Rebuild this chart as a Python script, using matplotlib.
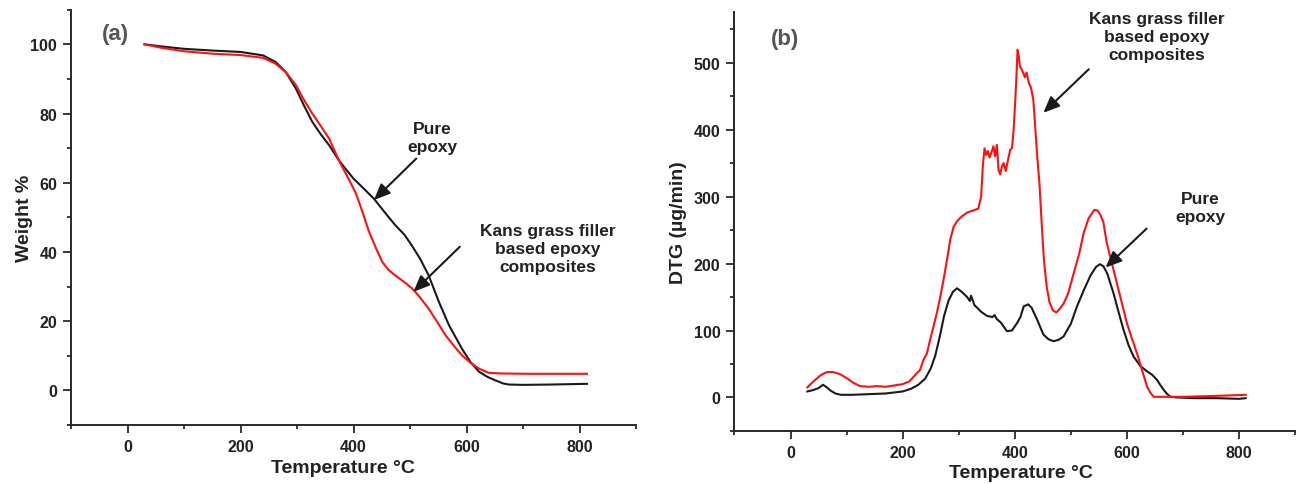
import matplotlib
matplotlib.use("Agg")
import matplotlib.pyplot as plt
from matplotlib.ticker import MultipleLocator

plt.rcParams['font.family'] = ['Liberation Sans', 'DejaVu Sans']
plt.rcParams['font.weight'] = 'bold'

# ---- (a) TGA: weight % vs temperature ----
tga_pure_T = [30, 60, 100, 150, 200, 240, 262, 280, 298, 312, 327, 342, 357, 374, 388,
              400, 420, 436, 455, 474, 490, 503, 518, 533, 551, 569, 592, 607, 622,
              637, 651, 665, 675, 700, 750, 813]
tga_pure_W = [100, 99.4, 98.7, 98.2, 97.8, 96.8, 94.9, 92.0, 87.2, 82.4, 77.6, 74.0,
              70.8, 66.5, 63.6, 61.2, 58.0, 55.4, 51.5, 47.7, 45.0, 41.9, 38.0, 33.2,
              25.6, 18.8, 12.0, 8.2, 5.4, 3.9, 2.9, 2.0, 1.7, 1.6, 1.7, 1.9]

tga_kans_T = [30, 60, 100, 150, 200, 240, 262, 280, 298, 312, 327, 342, 357, 374, 390,
              404, 416, 427, 440, 451, 462, 474, 490, 504, 518, 533, 548, 563, 578,
              592, 607, 622, 639, 660, 710, 813]
tga_kans_W = [100, 99.0, 98.0, 97.3, 96.9, 96.1, 94.4, 92.0, 88.2, 84.0, 80.0, 76.4,
              72.7, 66.5, 61.5, 57.0, 51.5, 46.0, 41.0, 37.1, 34.8, 33.2, 31.3, 29.4,
              26.8, 23.6, 19.8, 15.9, 12.8, 10.1, 8.0, 6.3, 5.1, 4.9, 4.8, 4.8]

# ---- (b) DTG: weight-loss rate vs temperature ----
dtg_pure_T = [30, 40, 50, 58, 65, 72, 80, 90, 110, 140, 170, 200, 215, 228, 240, 250,
              258, 266, 274, 282, 290, 297, 305, 315, 320, 322, 328, 340, 350, 360,
              364, 368, 375, 386, 395, 404, 410, 416, 424, 430, 440, 451, 460, 469,
              478, 487, 500, 511, 523, 535, 545, 552, 558, 565, 576, 585, 594, 603,
              612, 624, 636, 645, 654, 660, 666, 672, 678, 690, 720, 760, 800, 812]
dtg_pure_V = [9, 11, 14, 19, 15, 10, 6, 4, 4, 5, 6, 9, 13, 19, 28, 43,
              62, 90, 122, 145, 158, 163, 158, 150, 144, 152, 138, 128, 122, 120,
              123, 117, 112, 99, 100, 111, 120, 136, 139, 134, 116, 94, 87, 84,
              86, 91, 110, 136, 160, 182, 195, 199, 196, 185, 156, 128, 101, 78,
              61, 47, 39, 34, 26, 18, 11, 5, 1, 0, -1, -1, -2, -1]

dtg_kans_T = [30, 36, 45, 55, 65, 76, 88, 100, 112, 124, 140, 154, 170, 185, 200, 212,
              225, 231, 237, 243, 249, 255, 261, 267, 273, 279, 285, 291, 297, 305,
              315, 325, 335, 340, 343, 346, 349, 352, 355, 358, 362, 365, 368, 371,
              374, 377, 380, 384, 388, 392, 395, 398, 401, 403, 405, 407, 409, 412,
              415, 418, 421, 425, 429, 433, 436, 440, 444, 448, 452, 457, 462, 468,
              474, 480, 487, 495, 505, 515, 523, 532, 542, 548, 553, 558, 564, 573,
              582, 591, 600, 609, 618, 627, 636, 642, 648, 660, 700, 740, 780, 812]
dtg_kans_V = [15, 20, 27, 34, 38, 38, 35, 29, 22, 17, 16, 17, 16, 18, 20, 24,
              36, 41, 56, 65, 86, 106, 126, 150, 176, 205, 236, 255, 263, 270,
              276, 279, 282, 300, 345, 372, 362, 368, 358, 365, 375, 360, 377, 340,
              333, 345, 350, 338, 355, 370, 372, 400, 445, 480, 519, 510, 495, 490,
              485, 478, 485, 470, 462, 445, 410, 360, 320, 260, 205, 165, 142, 130,
              127, 132, 140, 155, 185, 215, 246, 268, 280, 279, 272, 262, 231, 201,
              171, 141, 111, 88, 66, 41, 16, 7, 1, 1, 1, 2, 3, 4]

BLACK = '#1a1a1a'
RED = '#ff1010'
TXT = '#222222'

fig = plt.figure(figsize=(12.96, 4.85), dpi=100)
ax1 = fig.add_axes([0.0548, 0.1216, 0.436, 0.8563])
ax2 = fig.add_axes([0.5667, 0.1093, 0.4326, 0.8633])


def style(ax, ymaj, ymin):
    for s in ('top', 'right'):
        ax.spines[s].set_visible(False)
    for s in ('left', 'bottom'):
        ax.spines[s].set_linewidth(1.4)
        ax.spines[s].set_color('#2a2a2a')
    ax.set_xlim(-100, 900)
    ax.xaxis.set_major_locator(MultipleLocator(200))
    ax.xaxis.set_minor_locator(MultipleLocator(100))
    ax.yaxis.set_major_locator(MultipleLocator(ymaj))
    ax.yaxis.set_minor_locator(MultipleLocator(ymin))
    ax.tick_params(which='major', direction='out', length=6, width=1.3,
                   color='#2a2a2a', labelsize=11.5, labelcolor=TXT, pad=4)
    ax.tick_params(which='minor', direction='out', length=3, width=1.3,
                   color='#2a2a2a')
    for lab in ax.get_xticklabels() + ax.get_yticklabels():
        lab.set_fontweight('bold')
    ax.set_xlabel('Temperature °C', fontsize=14, fontweight='bold', color=TXT)


arrow = dict(arrowstyle='-|>,head_length=0.7,head_width=0.3', color=BLACK,
             lw=1.5, mutation_scale=14, shrinkA=0, shrinkB=0)

# (a)
ax1.plot(tga_pure_T, tga_pure_W, color=BLACK, lw=1.5)
ax1.plot(tga_kans_T, tga_kans_W, color=RED, lw=1.5)
ax1.set_ylim(-10, 110)
style(ax1, 20, 10)
ax1.set_ylabel('Weight %', fontsize=14, fontweight='bold', color=TXT)
ax1.yaxis.set_label_coords(-0.067, 0.5)
ax1.xaxis.set_label_coords(0.482, -0.082)
ax1.text(-22, 103, '(a)', fontsize=16, fontweight='bold', color='#555555',
         ha='center', va='center')
ax1.text(539, 73, 'Pure\nepoxy', fontsize=12.5, fontweight='bold', color=TXT,
         ha='center', va='center', linespacing=1.25)
ax1.annotate('', xy=(436, 55), xytext=(511, 67), arrowprops=arrow)
ax1.text(744, 41, 'Kans grass filler\nbased epoxy\ncomposites', fontsize=12.5,
         fontweight='bold', color=TXT, ha='center', va='center', linespacing=1.25)
ax1.annotate('', xy=(506, 28.5), xytext=(588, 41.5), arrowprops=arrow)

# (b)
ax2.plot(dtg_pure_T, dtg_pure_V, color=BLACK, lw=1.5)
ax2.plot(dtg_kans_T, dtg_kans_V, color=RED, lw=1.5)
ax2.set_ylim(-50, 575)
style(ax2, 100, 50)
ax2.set_ylabel('DTG (µg/min)', fontsize=14, fontweight='bold', color=TXT)
ax2.yaxis.set_label_coords(-0.085, 0.5)
ax2.xaxis.set_label_coords(0.511, -0.079)
ax2.text(-10, 536, '(b)', fontsize=16, fontweight='bold', color='#555555',
         ha='center', va='center')
ax2.text(653, 539, 'Kans grass filler\nbased epoxy\ncomposites', fontsize=12.5,
         fontweight='bold', color=TXT, ha='center', va='center', linespacing=1.25)
ax2.annotate('', xy=(451, 425), xytext=(532, 490), arrowprops=arrow)
ax2.text(731, 283, 'Pure\nepoxy', fontsize=12.5, fontweight='bold', color=TXT,
         ha='center', va='center', linespacing=1.25)
ax2.annotate('', xy=(562, 194), xytext=(635, 252), arrowprops=arrow)

fig.savefig('out.png', dpi=100, facecolor='white')
